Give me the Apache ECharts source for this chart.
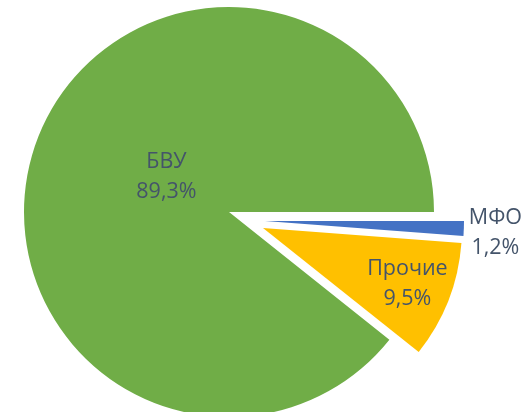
<!DOCTYPE html>
<html><head><meta charset="utf-8">
<script src="https://cdn.jsdelivr.net/npm/echarts@6/dist/echarts.min.js"></script>
<style>html,body{margin:0;padding:0;background:#fff}#c{width:522px;height:412px}</style>
</head><body><div id="c"></div>
<script>
const categories = ['МФО', 'Прочие', 'БВУ'];
const values = [1.2, 9.5, 89.3];
const labels = ['МФО\n1,2%', 'Прочие\n9,5%', 'БВУ\n89,3%'];

const colors = ['#4472C4', '#FFC000', '#70AD47'];
const centers = [[265, 221], [263, 228], [229, 212]];
const radii = [199, 199, 205];
const labelShift = [[128, 8], [49, 18], [37, 0]];

const chart = echarts.init(document.getElementById('c'), null, {renderer: 'canvas'});
const series = categories.map((name, i) => ({
  type: 'pie',
  center: centers[i],
  radius: [0, radii[i]],
  startAngle: 0,
  clockwise: true,
  silent: true,
  animation: false,
  avoidLabelOverlap: false,
  labelLine: {show: false},
  labelLayout: {dx: labelShift[i][0], dy: labelShift[i][1]},
  emphasis: {disabled: true},
  data: categories.map((n, j) => ({
    name: n,
    value: values[j],
    itemStyle: {color: j === i ? colors[j] : 'rgba(0,0,0,0)', borderWidth: 0},
    label: {
      show: j === i,
      position: 'inside',
      formatter: labels[j],
      color: '#44546A',
      fontFamily: 'Open Sans',
      fontSize: 21.5,
      lineHeight: 30,
      align: 'center'
    }
  }))
}));

chart.setOption({
  backgroundColor: '#ffffff',
  animation: false,
  series: series
});
</script></body></html>
